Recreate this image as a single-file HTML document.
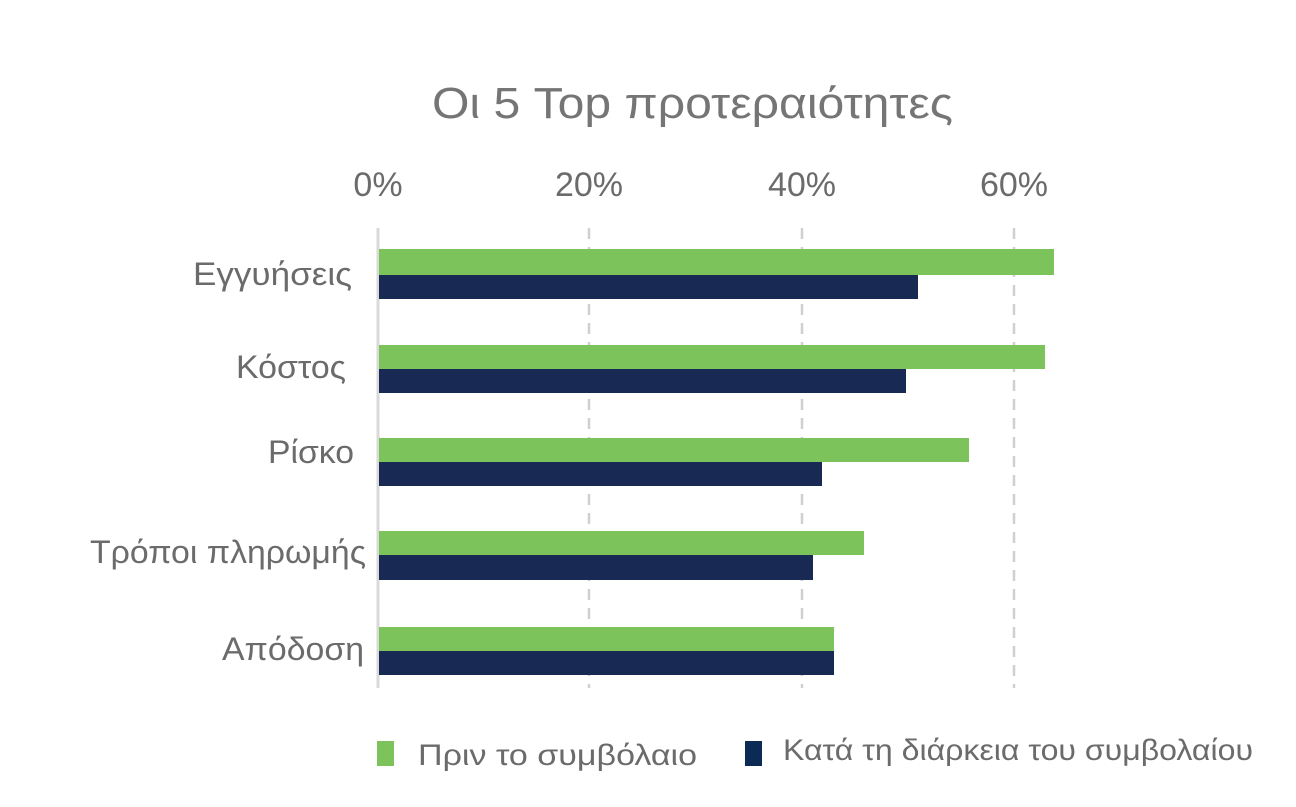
<!DOCTYPE html>
<html><head><meta charset="utf-8"><style>html,body{margin:0;padding:0;background:#fff}</style></head>
<body>
<svg width="1296" height="802" viewBox="0 0 1296 802" xmlns="http://www.w3.org/2000/svg" font-family="Liberation Sans, DejaVu Sans, sans-serif">
<rect width="1296" height="802" fill="#fff"/>
<text x="432" y="118" font-size="44" fill="#757575" textLength="521" lengthAdjust="spacingAndGlyphs">Οι 5 Top προτεραιότητες</text>
<g font-size="34" fill="#6b6b6b" text-anchor="middle">
<text x="378" y="196">0%</text>
<text x="589" y="196">20%</text>
<text x="802" y="196">40%</text>
<text x="1014" y="196">60%</text>
</g>
<g stroke="#d0d0d0" stroke-width="2.5" stroke-dasharray="11,8">
<line x1="589" y1="228" x2="589" y2="688"/>
<line x1="802" y1="228" x2="802" y2="688"/>
<line x1="1014" y1="228" x2="1014" y2="688"/>
</g>
<line x1="378" y1="228" x2="378" y2="688" stroke="#d9d9d9" stroke-width="3"/>
<g fill="#7dc35b">
<rect x="379" y="249" width="675" height="26"/>
<rect x="379" y="345" width="666" height="24"/>
<rect x="379" y="438" width="590" height="24"/>
<rect x="379" y="531" width="485" height="24"/>
<rect x="379" y="627" width="455" height="24"/>
</g>
<g fill="#182a54">
<rect x="379" y="275" width="539" height="24"/>
<rect x="379" y="369" width="527" height="24"/>
<rect x="379" y="462" width="443" height="24"/>
<rect x="379" y="555" width="434" height="25"/>
<rect x="379" y="651" width="455" height="24"/>
</g>
<g font-size="32" fill="#6b6b6b">
<text x="193" y="285" textLength="159" lengthAdjust="spacingAndGlyphs">Εγγυήσεις</text>
<text x="236" y="378" textLength="110" lengthAdjust="spacingAndGlyphs">Κόστος</text>
<text x="268" y="463" textLength="86" lengthAdjust="spacingAndGlyphs">Ρίσκο</text>
<text x="90" y="563" textLength="276" lengthAdjust="spacingAndGlyphs">Τρόποι πληρωμής</text>
<text x="222" y="660" textLength="142" lengthAdjust="spacingAndGlyphs">Απόδοση</text>
</g>
<rect x="377" y="741" width="17" height="25" fill="#7dc35b"/>
<text x="418" y="765" font-size="30" fill="#6b6b6b" textLength="279" lengthAdjust="spacingAndGlyphs">Πριν το συμβόλαιο</text>
<rect x="745" y="741" width="17" height="25" fill="#0c2a56"/>
<text x="783" y="760" font-size="30" fill="#6b6b6b" textLength="470" lengthAdjust="spacingAndGlyphs">Κατά τη διάρκεια του συμβολαίου</text>
</svg>
</body></html>
